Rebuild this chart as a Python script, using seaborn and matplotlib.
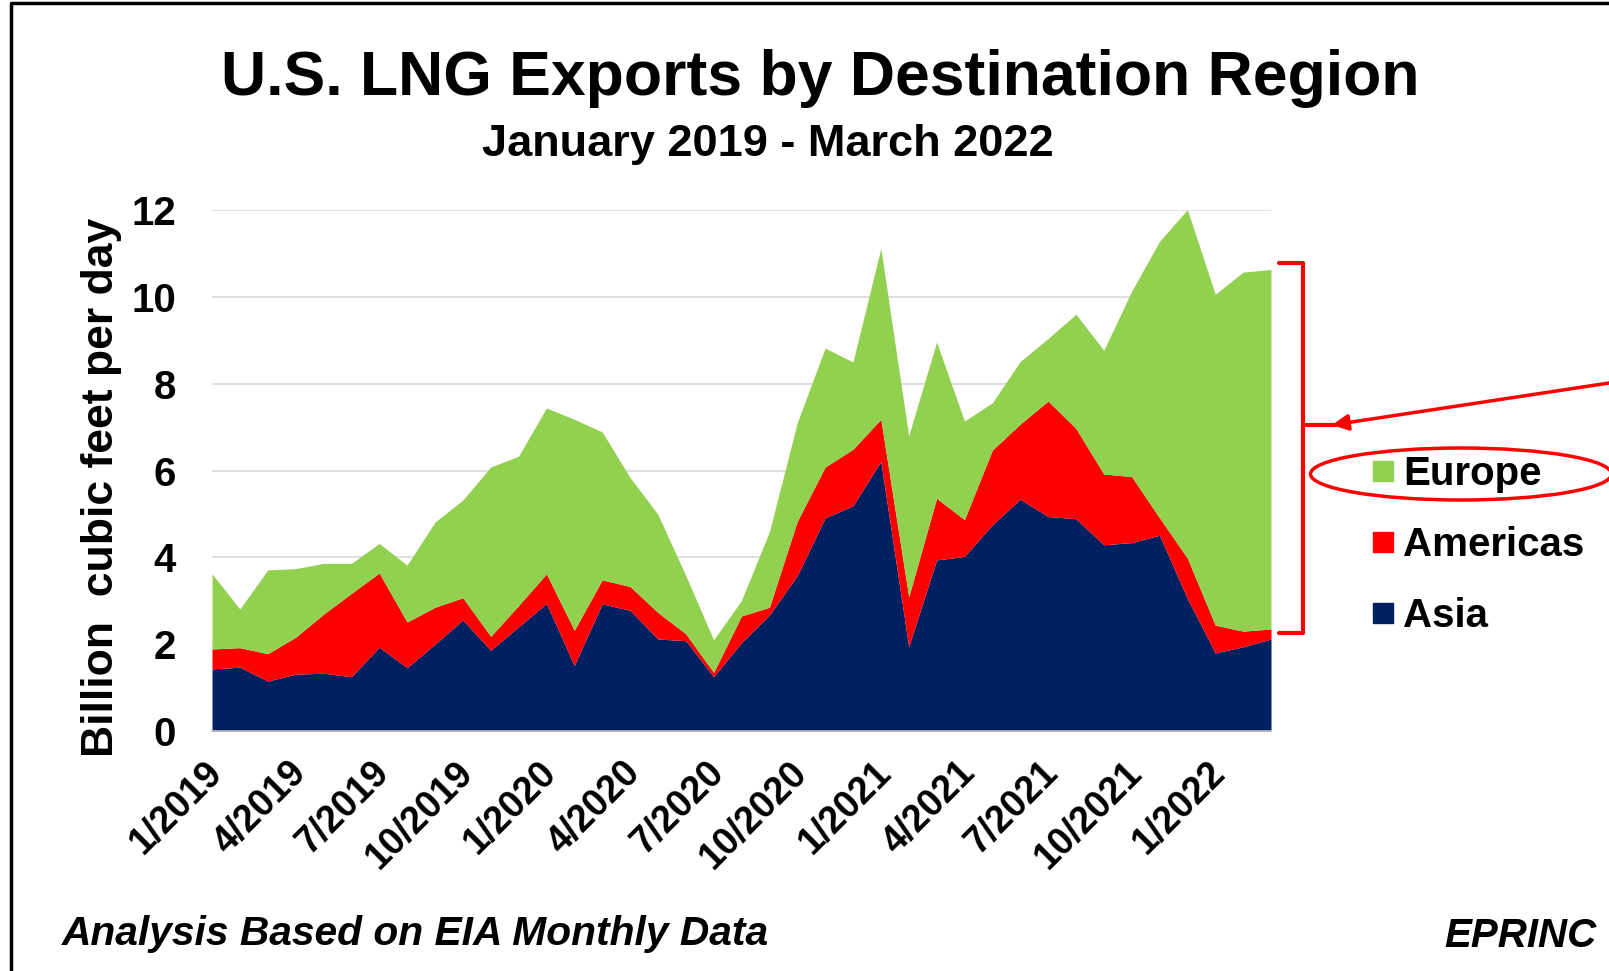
import numpy as np
import matplotlib.pyplot as plt
import matplotlib.transforms as mtransforms
import seaborn as sns
from matplotlib.lines import Line2D
from matplotlib.patches import Ellipse

# U.S. LNG exports by destination region, Jan 2019 - Mar 2022 (Bcf/d)
regions = ["Asia", "Americas", "Europe"]
asia = [1.43, 1.47, 1.15, 1.31, 1.33, 1.25, 1.93, 1.46, 2.00, 2.56, 1.86, 2.40, 2.94,
        1.51, 2.93, 2.78, 2.12, 2.08, 1.25, 2.04, 2.67, 3.58, 4.91, 5.19, 6.21, 1.94,
        3.94, 4.02, 4.75, 5.34, 4.94, 4.89, 4.29, 4.34, 4.51, 3.05, 1.80, 1.94, 2.12]
americas = [0.46, 0.45, 0.63, 0.85, 1.36, 1.92, 1.71, 1.05, 0.85, 0.51, 0.32, 0.49, 0.68,
            0.81, 0.55, 0.55, 0.61, 0.16, 0.10, 0.61, 0.18, 1.25, 1.17, 1.30, 0.97, 1.15,
            1.42, 0.85, 1.72, 1.73, 2.66, 2.08, 1.63, 1.52, 0.40, 0.93, 0.64, 0.36, 0.23]
europe = [1.73, 0.89, 1.93, 1.58, 1.17, 0.69, 0.68, 1.31, 1.96, 2.25, 3.90, 3.44, 3.82,
          4.86, 3.41, 2.51, 2.26, 1.34, 0.75, 0.36, 1.74, 2.27, 2.74, 2.01, 3.94, 3.71,
          3.60, 2.27, 1.09, 1.44, 1.44, 2.63, 2.85, 4.27, 6.37, 8.03, 7.62, 8.27, 8.28]
tick_labels = ["1/2019", "4/2019", "7/2019", "10/2019", "1/2020", "4/2020", "7/2020",
               "10/2020", "1/2021", "4/2021", "7/2021", "10/2021", "1/2022"]
colors = {"Asia": "#002060", "Americas": "#ff0000", "Europe": "#92d050"}

sns.set_style("white")
plt.rcParams['font.family'] = ['Liberation Sans', 'DejaVu Sans']
plt.rcParams['text.color'] = 'black'
plt.rcParams['xtick.labelcolor'] = 'black'
plt.rcParams['ytick.labelcolor'] = 'black'

W, H = 1609, 971


def fx(px):
    return px / W


def fy(py):
    return 1 - py / H


fig = plt.figure(figsize=(W / 100, H / 100), dpi=100)
ax = fig.add_axes([fx(212), fy(731), (1271 - 212) / W, (731 - 210) / H])

x = np.arange(len(asia))
ax.stackplot(x, asia, americas, europe,
             colors=[colors[r] for r in regions], linewidth=0)

ax.set_xlim(0, len(asia) - 1)
ax.set_ylim(0, 12)
ax.set_yticks(range(0, 13, 2))
ax.set_xticks(range(0, len(asia), 3))
ax.set_xticklabels(tick_labels)
ax.yaxis.grid(True, color="#d9d9d9", lw=1.2)
ax.set_axisbelow(True)
sns.despine(ax=ax, left=True)
ax.spines['bottom'].set_color("#bfbfbf")
ax.spines['bottom'].set_linewidth(1.2)

ax.tick_params(axis='y', length=0, pad=26, labelsize=29, labelcolor='black')
ax.tick_params(axis='x', length=8, width=1, color="#bfbfbf", pad=9, labelsize=27,
               labelcolor='black')
shift = mtransforms.ScaledTranslation(-0.08, 0, fig.dpi_scale_trans)
for lab in ax.get_yticklabels():
    lab.set_fontweight('bold')
for lab in ax.get_xticklabels():
    lab.set_fontweight('bold')
    lab.set_rotation(45)
    lab.set_ha('right')
    lab.set_va('top')
    lab.set_rotation_mode('anchor')
    lab.set_transform(lab.get_transform() + shift)

# titles
fig.text(fx(820), fy(95), "U.S. LNG Exports by Destination Region",
         ha='center', va='baseline', fontsize=45, fontweight='bold')
fig.text(fx(768), fy(156), "January 2019 - March 2022",
         ha='center', va='baseline', fontsize=32.5, fontweight='bold')
fig.text(fx(113), fy(487), "Billion  cubic feet per day", rotation=90,
         rotation_mode='anchor', ha='center', va='baseline',
         fontsize=32, fontweight='bold')

# footer
fig.text(fx(62), fy(945), "Analysis Based on EIA Monthly Data", ha='left', va='baseline',
         fontsize=29.3, fontweight='bold', fontstyle='italic')
fig.text(fx(1597), fy(947), "EPRINC", ha='right', va='baseline',
         fontsize=29, fontweight='bold', fontstyle='italic')

# legend, top to bottom
handles = [Line2D([], [], marker='s', ls='', color=colors[r], markersize=14.4)
           for r in ["Europe", "Americas", "Asia"]]
fig.legend(handles, ["Europe", "Americas", "Asia"], loc='center left',
           bbox_to_anchor=(fx(1371), fy(545)), frameon=False,
           prop=dict(weight='bold', size=29), handlelength=0.6,
           handletextpad=0.2, labelspacing=0.82, borderpad=0, borderaxespad=0)

# red bracket, arrow and ellipse
fig.add_artist(Line2D([fx(1279), fx(1303), fx(1303), fx(1279)],
                      [fy(263), fy(263), fy(633), fy(633)],
                      color='red', lw=3, transform=fig.transFigure))
fig.add_artist(Line2D([fx(1303), fx(1336)], [fy(425), fy(425)],
                      color='red', lw=3, transform=fig.transFigure))
ax.annotate('', xy=(1332, H - 425), xytext=(1609, H - 383),
            xycoords='figure pixels', textcoords='figure pixels',
            arrowprops=dict(arrowstyle='-|>', color='red', lw=2.5,
                            mutation_scale=24, shrinkA=0, shrinkB=0),
            annotation_clip=False)
fig.add_artist(Ellipse((fx(1461), fy(474)), width=301 / W, height=52 / H,
                       transform=fig.transFigure, fill=False, ec='red', lw=2.5))

# frame
fig.add_artist(Line2D([fx(11), fx(11), 1.0], [0, fy(3), fy(3)],
                      color='black', lw=2.5, transform=fig.transFigure))

fig.savefig("out.png", dpi=100)
